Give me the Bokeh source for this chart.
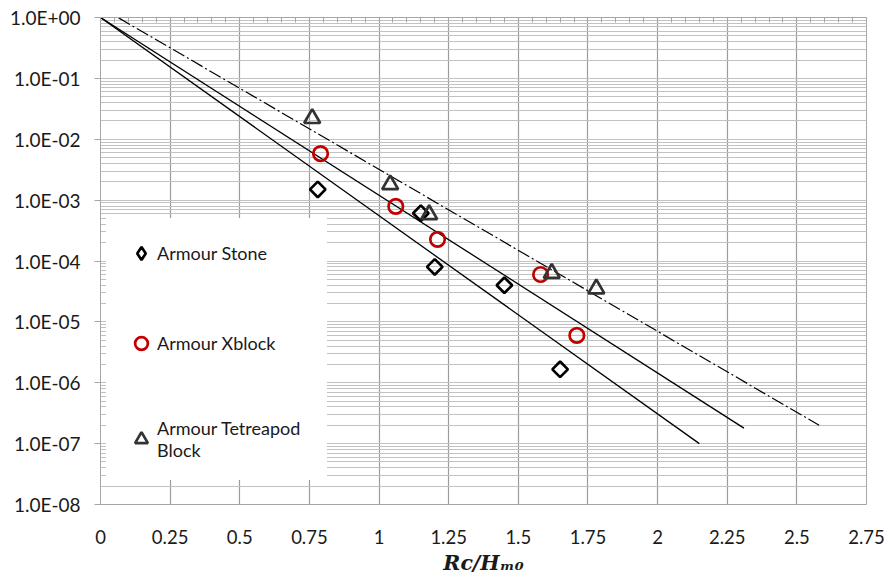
import numpy as np
from bokeh.plotting import figure
from bokeh.models import FixedTicker, LinearAxis, Legend, LegendItem, Range1d
from bokeh.embed import file_html
from bokeh.resources import INLINE

# ---- data ----
stone_x = [0.78, 1.15, 1.20, 1.45, 1.65]
stone_y = [1.5e-3, 6.1e-4, 8.0e-5, 4.0e-5, 1.66e-6]

xblock_x = [0.79, 1.06, 1.21, 1.58, 1.71]
xblock_y = [5.8e-3, 7.9e-4, 2.27e-4, 6.0e-5, 6.0e-6]

tetra_x = [0.76, 1.04, 1.18, 1.62, 1.78]
tetra_y = [2.2e-2, 1.8e-3, 5.8e-4, 6.3e-5, 3.5e-5]

fit_stone_x = [0.0, 2.15]
fit_stone_y = [1.0, 1.0e-7]
fit_xblock_x = [0.0, 2.31]
fit_xblock_y = [1.0, 1.8e-7]
fit_tetra_x = [0.0, 2.58]
fit_tetra_y = [1.47, 2.0e-7]

x_ticks = [0, 0.25, 0.5, 0.75, 1.0, 1.25, 1.5, 1.75, 2.0, 2.25, 2.5, 2.75]
x_tick_labels = ["0", "0.25", "0.5", "0.75", "1", "1.25", "1.5", "1.75", "2", "2.25", "2.5", "2.75"]
x_minor_ticks = [round(0.05 * i, 2) for i in range(0, 56)]

y_ticks = [1e0, 1e-1, 1e-2, 1e-3, 1e-4, 1e-5, 1e-6, 1e-7, 1e-8]
y_tick_labels = ["1.0E+00", "1.0E-01", "1.0E-02", "1.0E-03", "1.0E-04",
                 "1.0E-05", "1.0E-06", "1.0E-07", "1.0E-08"]
y_minor_ticks = [k * 10.0 ** e for e in range(-8, 0) for k in range(2, 10)]

series_labels = ["Armour Stone", "Armour Xblock", "Armour Tetreapod\nBlock"]
x_title = "Rc/H\u2098\u2080"

GRID = "#a6a6a6"
TXT = "#1a1a1a"
FONT = "Lato"

p = figure(width=895, height=579, y_axis_type="log",
           x_range=Range1d(0, 2.75), y_range=Range1d(1e-8, 1.0),
           output_backend="svg", toolbar_location=None,
           min_border_left=100, min_border_right=29,
           min_border_top=17, min_border_bottom=75)
p.background_fill_color = "white"
p.border_fill_color = "white"
p.outline_line_color = GRID
p.outline_line_width = 1

# axes
p.xaxis.ticker = FixedTicker(ticks=x_ticks)
p.xaxis.major_label_overrides = dict(zip(x_ticks, x_tick_labels))
p.xaxis.axis_line_color = GRID
p.xaxis.major_tick_in = 0
p.xaxis.major_tick_out = 0
p.xaxis.minor_tick_in = 0
p.xaxis.minor_tick_out = 0
p.xaxis.major_label_standoff = 25
p.xaxis.major_label_text_font = FONT
p.xaxis.major_label_text_font_size = "18.5px"
p.xaxis.major_label_text_color = TXT
p.xaxis.axis_label = x_title
p.xaxis.axis_label_text_font = "DejaVu Serif"
p.xaxis.axis_label_text_font_style = "bold italic"
p.xaxis.axis_label_text_font_size = "20.5px"
p.xaxis.axis_label_text_color = TXT
p.xaxis.axis_label_standoff = 4

p.yaxis.ticker = FixedTicker(ticks=y_ticks, minor_ticks=y_minor_ticks)
p.yaxis.major_label_overrides = dict(zip(y_ticks, y_tick_labels))
p.yaxis.axis_line_color = GRID
p.yaxis.major_tick_line_color = GRID
p.yaxis.major_tick_in = 0
p.yaxis.major_tick_out = 6
p.yaxis.minor_tick_in = 0
p.yaxis.minor_tick_out = 0
p.yaxis.major_label_standoff = 14
p.yaxis.major_label_text_font = FONT
p.yaxis.major_label_text_font_size = "19px"
p.yaxis.major_label_text_color = TXT

top_axis = LinearAxis(ticker=FixedTicker(ticks=x_ticks, minor_ticks=x_minor_ticks),
                      major_label_text_font_size="0px", major_label_standoff=0,
                      major_tick_in=0, major_tick_out=0,
                      minor_tick_in=5, minor_tick_out=0,
                      minor_tick_line_color=GRID, axis_line_color=GRID)
top_axis.major_label_overrides = {t: "" for t in x_ticks}
p.add_layout(top_axis, "above")

# grids
p.xgrid.grid_line_color = "#9c9c9c"
p.xgrid.grid_line_width = 1.2
p.ygrid.grid_line_color = "#c2c2c2"
p.ygrid.grid_line_width = 1
p.ygrid.minor_grid_line_color = "#c2c2c2"
p.ygrid.minor_grid_line_width = 1

# fitted lines
p.line(fit_stone_x, fit_stone_y, line_color="black", line_width=1.3)
p.line(fit_xblock_x, fit_xblock_y, line_color="black", line_width=1.3)
p.line(fit_tetra_x, fit_tetra_y, line_color="black", line_width=1.2, line_dash="13 3 2 3")

# points
r_stone = p.scatter(stone_x, stone_y, marker="square", angle=np.pi / 4, size=11,
                    fill_color=None, line_color="black", line_width=2.7)
r_xblock = p.scatter(xblock_x, xblock_y, marker="circle", size=14.5,
                     fill_color=None, line_color="#c00000", line_width=2.7)
r_tetra = p.scatter(tetra_x, tetra_y, marker="triangle", size=16,
                    fill_color=None, line_color="#333333", line_width=2.7)
# legend symbol for the stones (legend glyphs are drawn unrotated)
r_stone_key = p.scatter(stone_x, stone_y, marker="diamond", size=11,
                        fill_color=None, line_color="black", line_width=2.7,
                        visible=False)

legend = Legend(items=[LegendItem(label=series_labels[0], renderers=[r_stone_key]),
                       LegendItem(label=series_labels[1], renderers=[r_xblock]),
                       LegendItem(label=series_labels[2], renderers=[r_tetra])],
                location=(6, 24), padding=18, spacing=58,
                glyph_width=32, glyph_height=32, label_height=32, label_width=151,
                label_standoff=0, label_text_font=FONT, label_text_font_size="18px",
                label_text_color=TXT, border_line_color="white", border_line_width=1,
                background_fill_color="white", background_fill_alpha=1.0, margin=0)
p.add_layout(legend)

open("out.html", "w").write(file_html(p, INLINE))
